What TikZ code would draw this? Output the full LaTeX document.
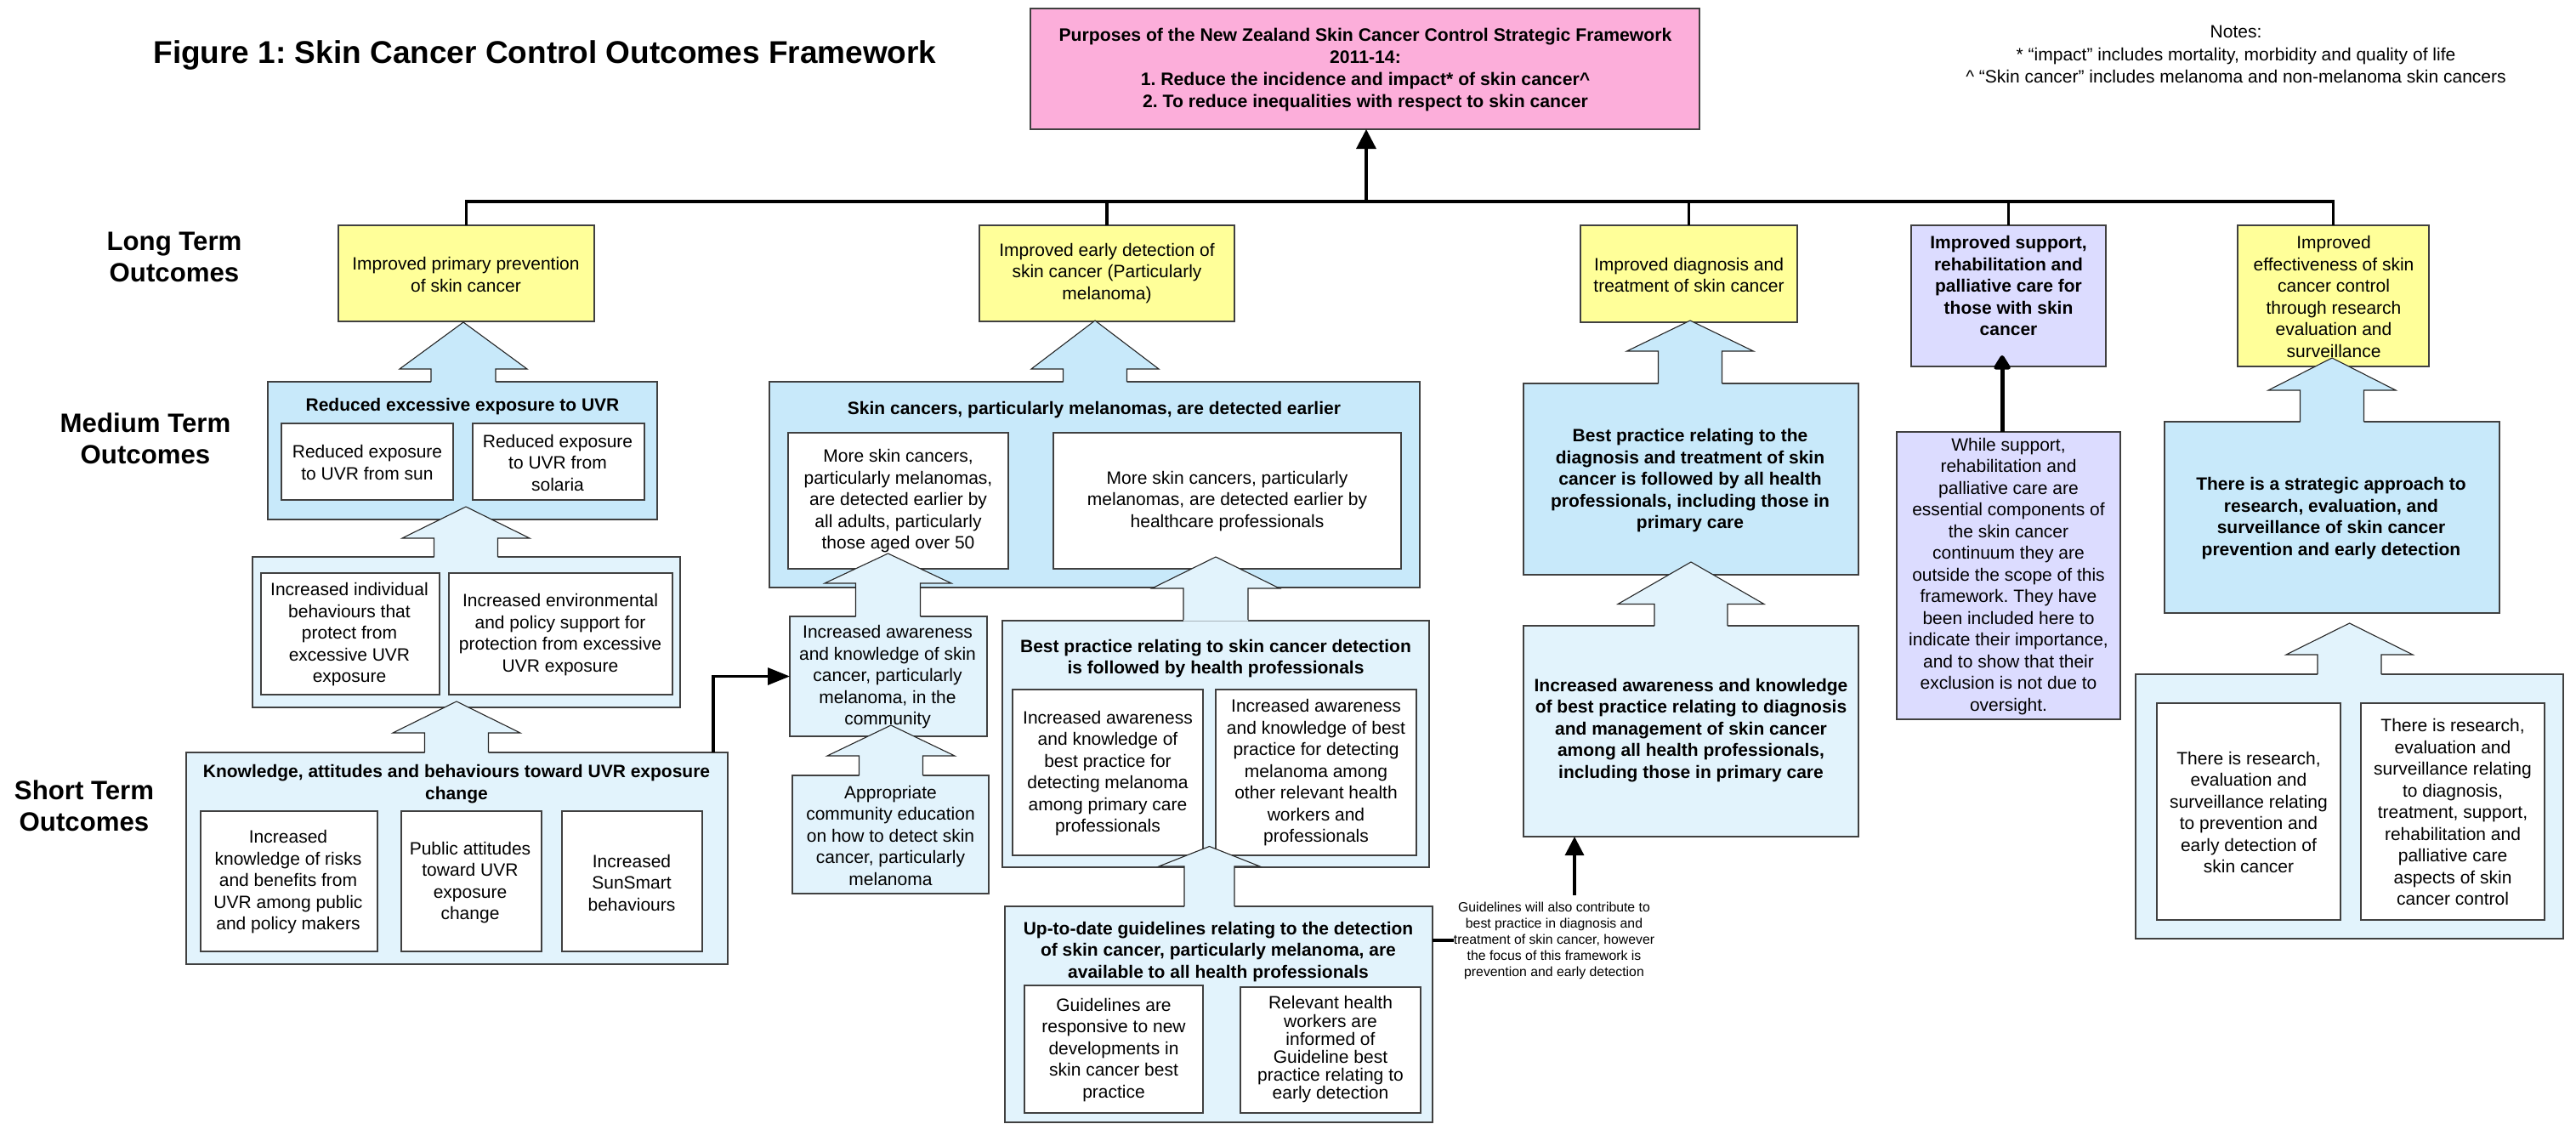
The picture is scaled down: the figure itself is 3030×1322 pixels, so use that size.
\documentclass[tikz,border=0pt]{standalone}
\usepackage{fontspec}
\setmainfont{Liberation Sans}
\usetikzlibrary{arrows.meta}
\frenchspacing
\definecolor{pinkf}{RGB}{252,174,218}
\definecolor{yelf}{RGB}{255,255,153}
\definecolor{bluef}{RGB}{200,233,250}
\definecolor{ltf}{RGB}{226,243,252}
\definecolor{purf}{RGB}{220,220,255}
\definecolor{bord}{RGB}{64,64,64}
\newcommand\mkbox[6]{\node[bx,#2,minimum width={(#5-#3)*0.5pt},minimum height={(#6-#4)*0.5pt}] (#1) at ({(#3+#5)/2},{(#4+#6)/2}) {};}
% #1 fill, #2 cx, #3 tip y, #4 head half, #5 base y, #6 shaft half, #7 source y
\newcommand\blkarrow[7]{%
 \fill[#1] ({#2-#6},{#7+1.5}) -- ({#2-#6},{#5}) -- ({#2-#4},{#5}) -- ({#2},{#3}) -- ({#2+#4},{#5}) -- ({#2+#6},{#5}) -- ({#2+#6},{#7+1.5}) -- cycle;
 \draw[arrline] ({#2-#6},{#7}) -- ({#2-#6},{#5}) -- ({#2-#4},{#5}) -- ({#2},{#3}) -- ({#2+#4},{#5}) -- ({#2+#6},{#5}) -- ({#2+#6},{#7});}
\begin{document}
\begin{tikzpicture}[x=0.5pt,y=-0.5pt,
  bx/.style={draw=bord,line width=0.6pt,inner sep=0pt,outer sep=0pt},
  arrline/.style={draw=black!85,line width=0.55pt,line join=miter},
  conn/.style={draw=black,line width=1.6pt},
  tx/.style={align=center,inner sep=0pt,font=\fontsize{10.5pt}{12.75pt}\selectfont},
  tb/.style={align=center,inner sep=0pt,font=\fontsize{10.5pt}{12.75pt}\selectfont\bfseries},
  lab/.style={align=center,inner sep=0pt,font=\fontsize{15.6pt}{18.5pt}\selectfont\bfseries}]
\useasboundingbox (0,0) rectangle (3030,1322);
% ---------- boxes ----------
\mkbox{p0}{fill=pinkf}{1212}{10}{1999}{152}
\mkbox{y1}{fill=yelf}{398}{265}{699}{378}
\mkbox{y2}{fill=yelf}{1152}{265}{1452}{378}
\mkbox{y3}{fill=yelf}{1859}{265}{2114}{379}
\mkbox{pt}{fill=purf}{2248}{265}{2477}{431}
\mkbox{y5}{fill=yelf}{2632}{265}{2857}{431}
\mkbox{b1}{fill=bluef}{315}{449}{773}{611}
\mkbox{w1a}{fill=white}{331}{498}{533}{588}
\mkbox{w1b}{fill=white}{556}{498}{758}{588}
\mkbox{l2}{fill=ltf}{297}{655}{800}{832}
\mkbox{w2a}{fill=white}{307}{674}{517}{817}
\mkbox{w2b}{fill=white}{528}{674}{791}{817}
\mkbox{kab}{fill=ltf}{219}{885}{856}{1134}
\mkbox{wka}{fill=white}{236}{954}{444}{1119}
\mkbox{wkb}{fill=white}{472}{954}{637}{1119}
\mkbox{wkc}{fill=white}{661}{954}{826}{1119}
\mkbox{b2}{fill=bluef}{905}{449}{1670}{691}
\mkbox{wb2a}{fill=white}{927}{509}{1186}{669}
\mkbox{wb2b}{fill=white}{1239}{509}{1648}{669}
\mkbox{ia}{fill=ltf}{929}{725}{1161}{866}
\mkbox{ap}{fill=ltf}{932}{912}{1163}{1051}
\mkbox{bp}{fill=ltf}{1179}{730}{1681}{1020}
\mkbox{wbpa}{fill=white}{1191}{811}{1415}{1006}
\mkbox{wbpb}{fill=white}{1430}{811}{1666}{1006}
\mkbox{ud}{fill=ltf}{1182}{1066}{1685}{1320}
\mkbox{wuda}{fill=white}{1205}{1159}{1415}{1309}
\mkbox{wudb}{fill=white}{1459}{1161}{1671}{1309}
\mkbox{b3}{fill=bluef}{1792}{451}{2186}{676}
\mkbox{l3}{fill=ltf}{1792}{736}{2186}{984}
\mkbox{pb}{fill=purf}{2231}{508}{2494}{846}
\mkbox{b5}{fill=bluef}{2546}{496}{2940}{721}
\mkbox{l5}{fill=ltf}{2512}{793}{3015}{1104}
\mkbox{wl5a}{fill=white}{2537}{827}{2753}{1082}
\mkbox{wl5b}{fill=white}{2777}{827}{2993}{1082}
% ---------- block arrows ----------
\blkarrow{bluef}{545}{379}{75}{434}{38}{449}
\blkarrow{ltf}{548}{596}{75}{633}{37.5}{655}
\blkarrow{ltf}{537}{825}{75}{862}{37.5}{885}
\blkarrow{bluef}{1288}{377}{75}{434}{37.5}{449}
\blkarrow{ltf}{1044.5}{651}{74.5}{686}{38}{725}
\blkarrow{ltf}{1430}{655}{75}{692}{38}{729}
\blkarrow{ltf}{1048}{853}{75}{889}{37.5}{912}
\blkarrow{ltf}{1422.5}{995.5}{59.5}{1019}{29.5}{1066}
\blkarrow{bluef}{1988}{377}{74.5}{413}{37.5}{451}
\blkarrow{ltf}{1989}{661}{86}{710.5}{43}{736}
\blkarrow{bluef}{2743}{421}{75}{459}{37.5}{496}
\blkarrow{ltf}{2763.5}{733}{74.5}{770}{37.5}{793}
% ---------- connectors ----------
\coordinate (bus) at (1607,237);
\draw[conn,-{Triangle[length=11.5pt,width=11.5pt]}] (bus) -- (bus |- p0.south);
\draw[conn] (y1.north) |- (y5.north |- bus) -- (y5.north);
\draw[conn] (y2.north) -- (y2.north |- bus);
\draw[conn] (y3.north) -- (y3.north |- bus);
\draw[conn] (pt.north) -- (pt.north |- bus);
\coordinate (kabc) at (839,885);
\draw[conn,-{Triangle[length=13pt,width=10pt]}] (kabc) |- (ia.west);
\coordinate (pbs) at (2355,508);
\draw[draw=black,line width=2.5pt,shorten >=-6.5pt,-{Triangle[length=9.5pt,width=11pt,round]}] (pbs) -- (pbs |- pt.south);
% ---------- texts ----------
\node[lab] (tt) at (641,75) [anchor=base] {\fontsize{18.5pt}{22pt}\selectfont Figure 1: Skin Cancer Control Outcomes Framework};
\node[lab] (lt) at (205,302) {Long Term\\Outcomes};
\node[lab] (mt) at (171,515.5) {Medium Term\\Outcomes};
\node[lab] (st) at (99,947.5) {Short Term\\Outcomes};
\node[tb,font=\fontsize{10.6pt}{12.85pt}\selectfont\bfseries] (tp0) at (1606,82) {Purposes of the New Zealand Skin Cancer Control Strategic Framework\\2011-14:\\1. Reduce the incidence and impact* of skin cancer\textasciicircum\\2. To reduce inequalities with respect to skin cancer};
\node[tx,font=\fontsize{10.5pt}{13.4pt}\selectfont] (tnotes) at (2630,64) {Notes:\\* “impact” includes mortality, morbidity and quality of life\\\textasciicircum{} “Skin cancer” includes melanoma and non-melanoma skin cancers};
\node[tx] (ty1) at (548,323) {Improved primary prevention\\of skin cancer};
\node[tx] (ty2) at (1302,321.5) {Improved early detection of\\skin cancer (Particularly\\melanoma)};
\node[tx] (ty3) at (1986.5,323.5) {Improved diagnosis and\\treatment of skin cancer};
\node[tb] (tpt) at (2362.5,336) {Improved support,\\rehabilitation and\\palliative care for\\those with skin\\cancer};
\node[tx] (ty5) at (2745,349) {Improved\\effectiveness of skin\\cancer control\\through research\\evaluation and\\surveillance};
\node[tb] (tb1) at (544,478) {Reduced excessive exposure to UVR};
\node[tx] (tw1a) at (432,544) {Reduced exposure\\to UVR from sun};
\node[tx] (tw1b) at (656,544) {Reduced exposure\\to UVR from\\solaria};
\node[tx] (tw2a) at (411,746.5) {Increased individual\\behaviours that\\protect from\\excessive UVR\\exposure};
\node[tx] (tw2b) at (659,746.5) {Increased environmental\\and policy support for\\protection from excessive\\UVR exposure};
\node[tb] (tkab) at (537,922) {Knowledge, attitudes and behaviours toward UVR exposure\\change};
\node[tx] (twka) at (339,1037.5) {Increased\\knowledge of risks\\and benefits from\\UVR among public\\and policy makers};
\node[tx] (twkb) at (553,1038) {Public attitudes\\toward UVR\\exposure\\change};
\node[tx] (twkc) at (743,1038) {Increased\\SunSmart\\behaviours};
\node[tb] (tb2) at (1287,482) {Skin cancers, particularly melanomas, are detected earlier};
\node[tx] (twb2a) at (1056.5,589.5) {More skin cancers,\\particularly melanomas,\\are detected earlier by\\all adults, particularly\\those aged over 50};
\node[tx] (twb2b) at (1443.5,589.5) {More skin cancers, particularly\\melanomas, are detected earlier by\\healthcare professionals};
\node[tx] (tia) at (1044,796.5) {Increased awareness\\and knowledge of skin\\cancer, particularly\\melanoma, in the\\community};
\node[tx] (tap) at (1047.5,982.5) {Appropriate\\community education\\on how to detect skin\\cancer, particularly\\melanoma};
\node[tb] (tbp) at (1430,774.5) {Best practice relating to skin cancer detection\\is followed by health professionals};
\node[tx] (twbpa) at (1303,909.5) {Increased awareness\\and knowledge of\\best practice for\\detecting melanoma\\among primary care\\professionals};
\node[tx] (twbpb) at (1548,909) {Increased awareness\\and knowledge of best\\practice for detecting\\melanoma among\\other relevant health\\workers and\\professionals};
\node[tb] (tud) at (1433,1119.5) {Up-to-date guidelines relating to the detection\\of skin cancer, particularly melanoma, are\\available to all health professionals};
\node[tx] (twuda) at (1310,1235) {Guidelines are\\responsive to new\\developments in\\skin cancer best\\practice};
\node[tx,font=\fontsize{10.5pt}{10.6pt}\selectfont] (twudb) at (1565,1234.5) {Relevant health\\workers are\\informed of\\Guideline best\\practice relating to\\early detection};
\node[tx,font=\fontsize{7.9pt}{9.5pt}\selectfont] (note) at (1828,1106) {Guidelines will also contribute to\\best practice in diagnosis and\\treatment of skin cancer, however\\the focus of this framework is\\prevention and early detection};
\node[tb] (tb3) at (1988,565.5) {Best practice relating to the\\diagnosis and treatment of skin\\cancer is followed by all health\\professionals, including those in\\primary care};
\node[tb] (tl3) at (1989,859) {Increased awareness and knowledge\\of best practice relating to diagnosis\\and management of skin cancer\\among all health professionals,\\including those in primary care};
\node[tx] (tpb) at (2362.5,678) {While support,\\rehabilitation and\\palliative care are\\essential components of\\the skin cancer\\continuum they are\\outside the scope of this\\framework. They have\\been included here to\\indicate their importance,\\and to show that their\\exclusion is not due to\\oversight.};
\node[tb] (tb5) at (2742,609.5) {There is a strategic approach to\\research, evaluation, and\\surveillance of skin cancer\\prevention and early detection};
\node[tx] (twl5a) at (2645,955.5) {There is research,\\evaluation and\\surveillance relating\\to prevention and\\early detection of\\skin cancer};
\node[tx] (twl5b) at (2885,955) {There is research,\\evaluation and\\surveillance relating\\to diagnosis,\\treatment, support,\\rehabilitation and\\palliative care\\aspects of skin\\cancer control};
% note connectors
\draw[conn] (ud.east |- note.west) -- (note.west);
\coordinate (gtop) at (1852,1053);
\draw[conn,-{Triangle[length=11pt,width=11pt]}] (gtop) -- (gtop |- l3.south);
\end{tikzpicture}
\end{document}
